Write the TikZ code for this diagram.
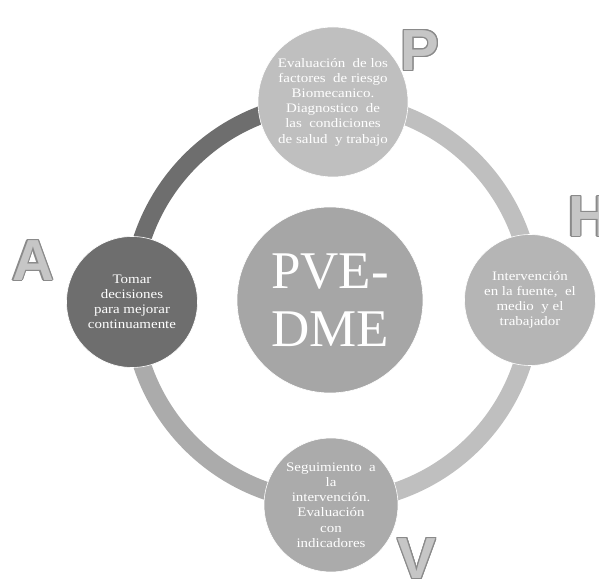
\documentclass[tikz,border=0pt]{standalone}
\usepackage{fontspec}
\setmainfont{Liberation Serif}
\newfontfamily\stagefont{Liberation Serif}[FakeStretch=1.15]
\newfontfamily\phasefont{Liberation Sans}
\usepackage{contour}
\contourlength{1.1pt}
\definecolor{ringlight}{HTML}{BFBFBF}
\definecolor{ringmid}{HTML}{ABABAB}
\definecolor{ringdark}{HTML}{6E6E6E}
\definecolor{hubgray}{HTML}{A6A6A6}
\definecolor{letterfill}{HTML}{C6C6C6}
\definecolor{letterline}{HTML}{8A8A8A}
\tikzset{
  stage/.style = {circle, draw=white, line width=0.6pt,
                  text=white, align=center, inner sep=0pt,
                  font=\stagefont\fontsize{13}{15.2}\selectfont},
  hub/.style   = {stage, fill=hubgray, minimum size=186pt,
                  font=\rmfamily\fontsize{53}{58}\selectfont},
  phase/.style = {inner sep=0pt,
                  font=\phasefont\bfseries\fontsize{58}{58}\selectfont},
  band/.style  = {line width=18pt}
}
\newcommand{\phaseletter}[1]{\contour{letterline}{\textcolor{letterfill}{#1}}}

\begin{document}
\begin{tikzpicture}[x=1pt,y=1pt]
  \clip (0,0) rectangle (599,583);
  \coordinate (ring) at (332,281);

  % ring
  \draw[band, ringdark]  (ring) ++(90:200)  arc (90:180:200);
  \draw[band, ringmid]   (ring) ++(180:200) arc (180:270:200);
  \draw[band, ringlight] (ring) ++(270:200) arc (270:360:200);
  \draw[band, ringlight] (ring) ++(0:200)   arc (0:90:200);

  % stages
  \node[hub] (pve) at (330,283) {PVE-\\DME};
  \node[stage, fill=ringlight, minimum size=150pt] (plan) at (333,481)
    {Evaluación\ \ de los\\ factores\ \ de riesgo\\ Biomecanico.\\
     Diagnostico\ \ de\\ las\ \ condiciones\\ de salud\ \ y trabajo};
  \node[stage, fill=ringlight!95!black, minimum size=131pt] (do) at (530,283)
    {Intervención\\ en la fuente,\ \ el\\ medio\ \ y el\\ trabajador};
  \node[stage, fill=ringmid, minimum size=134pt] (check) at (331,78)
    {Seguimiento\ \ a\\ la\\ intervención.\\ Evaluación\\ con\\ indicadores};
  \node[stage, fill=ringdark, minimum size=131pt] (act) at (132,281)
    {Tomar\\ decisiones\\ para mejorar\\ continuamente};

  % letters
  \node[phase] (P) at (420,532) {\phaseletter{P}};
  \node[phase] (H) at (589,366) {\phaseletter{H}};
  \node[phase] (A) at (33,322)  {\phaseletter{A}};
  \node[phase] (V) at (417,24)  {\phaseletter{V}};
\end{tikzpicture}
\end{document}
